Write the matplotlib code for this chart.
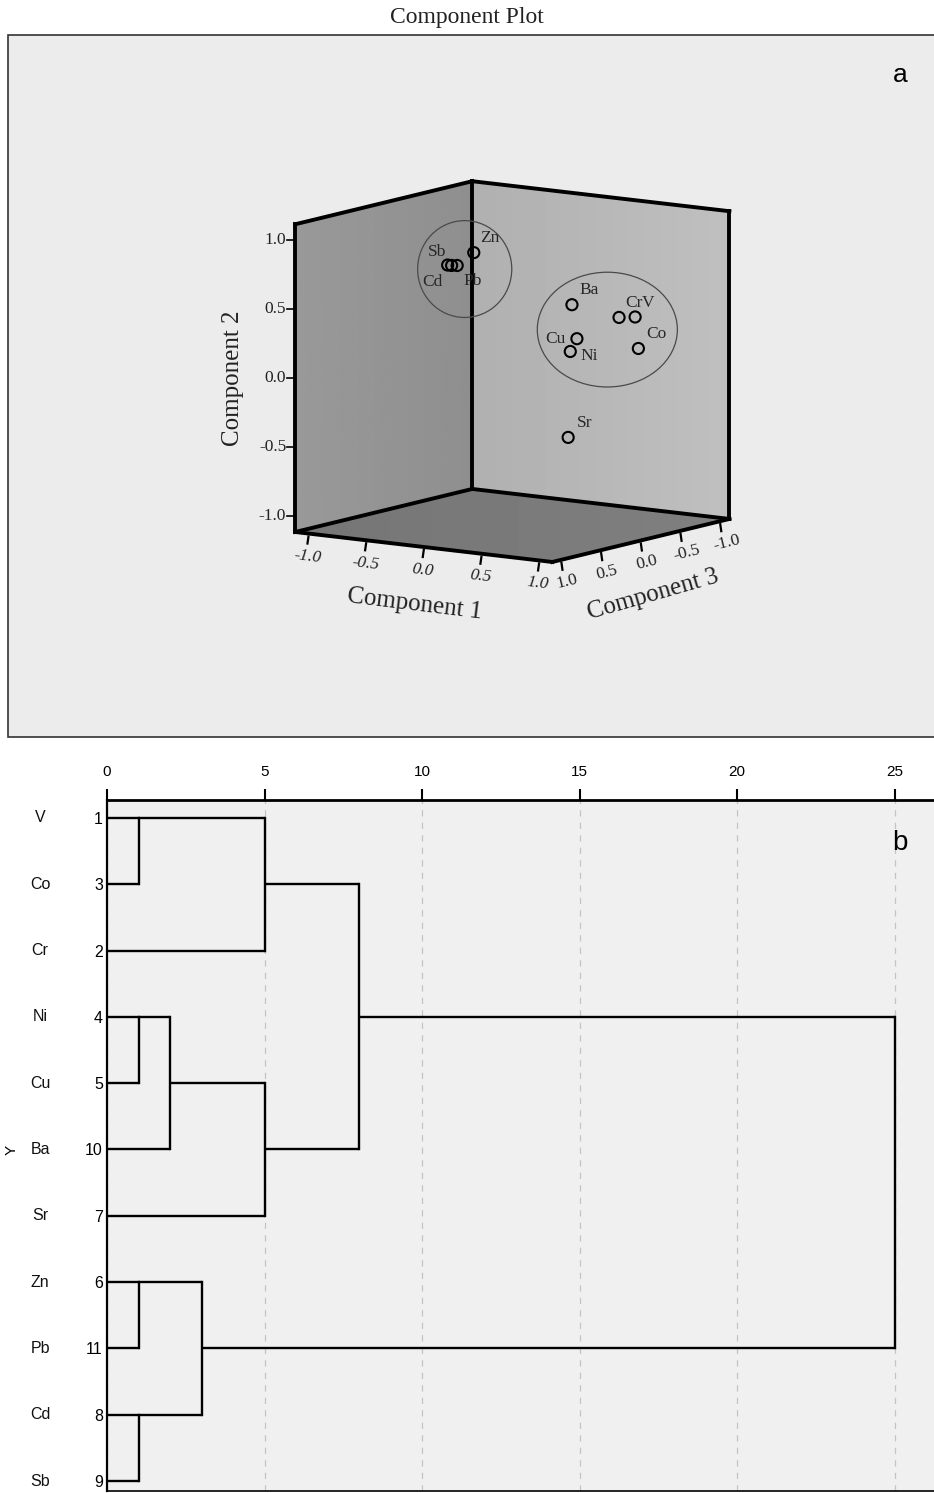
import numpy as np
import matplotlib
matplotlib.use("Agg")
import matplotlib.pyplot as plt
from matplotlib.patches import Polygon, Ellipse, Rectangle
from matplotlib import transforms

# panel a: loadings of each element on the three rotated components
elements = ["Zn", "Sb", "Cd", "Pb", "Ba", "Cr", "V", "Cu", "Ni", "Co", "Sr"]
comp1 = [-0.10, -0.12, -0.12, -0.12, 0.60, 0.85, 0.90, 0.65, 0.62, 0.88, 0.45]
comp2 = [0.90, 0.85, 0.84, 0.83, 0.56, 0.46, 0.45, 0.32, 0.23, 0.21, -0.44]
comp3 = [0.34, 0.64, 0.59, 0.52, 0.12, -0.11, -0.24, 0.13, 0.17, -0.31, -0.05]
axis_ticks = [-1.0, -0.5, 0.0, 0.5, 1.0]
clusters = [["Zn", "Sb", "Cd", "Pb"], ["Ba", "Cr", "V", "Cu", "Ni", "Co"]]

# panel b: dendrogram, rescaled distance cluster combine
leaf_names = ["V", "Co", "Cr", "Ni", "Cu", "Ba", "Sr", "Zn", "Pb", "Cd", "Sb"]
leaf_cases = [1, 3, 2, 4, 5, 10, 7, 6, 11, 8, 9]
merge_a = [0, 3, 7, 9, 12, 13, 11, 15, 17, 19]
merge_b = [1, 4, 8, 10, 5, 14, 2, 6, 18, 16]
merge_dist = [1, 1, 1, 1, 2, 3, 5, 5, 8, 25]
dist_ticks = [0, 5, 10, 15, 20, 25]

W, H = 934, 1493
SERIF = ["Liberation Serif", "DejaVu Serif"]
NARROW = ["Liberation Sans Narrow", "Liberation Sans", "DejaVu Sans"]
SANS = ["Liberation Sans", "DejaVu Sans"]

fig = plt.figure(figsize=(W / 100, H / 100), dpi=100)
fig.patch.set_facecolor("white")

# ---------- 3D component plot, drawn as an oblique projection ----------
TOP = 742
ax = fig.add_axes([0, 1 - TOP / H, 1, TOP / H])
ax.set_xlim(0, W)
ax.set_ylim(TOP, 0)
ax.axis("off")

BOX = 1.115
ORIGIN = np.array([512.3, 371.6])
E1 = np.array([115.3, 13.45])
E2 = np.array([0.0, -138.0])
E3 = np.array([-79.4, 19.3])


def project(c1, c2, c3):
    return ORIGIN + c1 * E1 + c2 * E2 + c3 * E3


ax.add_patch(Rectangle((8, 35), W, 702, facecolor="#ececec",
                       edgecolor="#333333", lw=1.2, zorder=0))

L = BOX
left_wall = [project(-L, -L, L), project(-L, L, L), project(-L, L, -L), project(-L, -L, -L)]
right_wall = [project(-L, -L, -L), project(-L, L, -L), project(L, L, -L), project(L, -L, -L)]
floor = [project(-L, -L, L), project(L, -L, L), project(L, -L, -L), project(-L, -L, -L)]


def shade(corners, c0, c1):
    poly = Polygon(corners, closed=True, facecolor="none", edgecolor="none")
    ax.add_patch(poly)
    xs = [p[0] for p in corners]
    ys = [p[1] for p in corners]
    grad = np.linspace(c0, c1, 64).reshape(1, -1)
    im = ax.imshow(grad, cmap="gray", vmin=0, vmax=1, aspect="auto",
                   extent=(min(xs), max(xs), max(ys), min(ys)), zorder=1)
    im.set_clip_path(poly)


shade(left_wall, 0.60, 0.56)
shade(right_wall, 0.69, 0.75)
shade(floor, 0.46, 0.50)
ax.set_xlim(0, W)
ax.set_ylim(TOP, 0)

edges = [
    ((-L, -L, L), (-L, L, L)), ((-L, L, L), (-L, L, -L)),
    ((-L, -L, -L), (-L, L, -L)), ((-L, L, -L), (L, L, -L)),
    ((L, -L, -L), (L, L, -L)), ((-L, -L, L), (L, -L, L)),
    ((L, -L, L), (L, -L, -L)), ((-L, -L, L), (-L, -L, -L)),
    ((-L, -L, -L), (L, -L, -L)),
]
for a, b in edges:
    p, q = project(*a), project(*b)
    ax.plot([p[0], q[0]], [p[1], q[1]], color="black", lw=2.8,
            solid_capstyle="projecting", zorder=3)

# axis ticks and labels
for t in axis_ticks:
    p = project(-L, t, L)
    ax.plot([p[0] - 8, p[0]], [p[1], p[1]], color="black", lw=1.2, zorder=3)
    ax.text(p[0] - 9, p[1], f"{t:.1f}", ha="right", va="center",
            family=SERIF, fontsize=12.5, color="#222222")
    p = project(t, -L, L)
    ax.plot([p[0], p[0] - 1], [p[1] + 3, p[1] + 10], color="black", lw=1.6, zorder=3)
    ax.text(p[0] - 1, p[1] + 23, f"{t:.1f}", ha="center", va="center",
            rotation=-6.7, family=SERIF, fontsize=12.5, style="italic", color="#222222")
    p = project(L, -L, t)
    ax.plot([p[0], p[0] + 1], [p[1] + 3, p[1] + 10], color="black", lw=1.6, zorder=3)
    ax.text(p[0] + 6, p[1] + 22, f"{t:.1f}", ha="center", va="center",
            rotation=13.7, family=SERIF, fontsize=12.5, color="#222222")

p = project(0, -L, L)
ax.text(p[0] - 9, p[1] + 57, "Component 1", ha="center", va="center",
        rotation=-7, family=SERIF, fontsize=18, color="#222222")
p = project(-L, 0, L)
ax.text(p[0] - 62, p[1], "Component 2", ha="center", va="center",
        rotation=90, family=SERIF, fontsize=18, color="#222222")
p = project(L, -L, 0)
ax.text(p[0] + 12, p[1] + 54, "Component 3", ha="center", va="center",
        rotation=16, family=SERIF, fontsize=18, color="#222222")

# loadings
pts = {}
for name, a1, a2, a3 in zip(elements, comp1, comp2, comp3):
    pts[name] = project(a1, a2, a3)
xy = np.array([pts[n] for n in elements])
ax.scatter(xy[:, 0], xy[:, 1], s=64, facecolors="none", edgecolors="black",
           linewidths=1.5, zorder=4)

label_offsets = {"Zn": (16, 15), "Sb": (-11, 13), "Cd": (-19, -17), "Pb": (15, -16),
                 "Ba": (17, 15), "Cr": (15, 14), "V": (13, 14), "Cu": (-22, 0),
                 "Ni": (19, -5), "Co": (18, 14), "Sr": (16, 14)}
for name in elements:
    ax.annotate(name, pts[name], xytext=label_offsets[name], textcoords="offset pixels",
                ha="center", va="center", family=SERIF, fontsize=12.5,
                color="#262626", zorder=5)

# rings around the two element groups
ring_pad = [(34, 42, 4, 10), (36, 34, 3, 1.5)]
for group, (px, py, ox, oy) in zip(clusters, ring_pad):
    g = np.array([pts[n] for n in group])
    cx = (g[:, 0].min() + g[:, 0].max()) / 2 + ox
    cy = (g[:, 1].min() + g[:, 1].max()) / 2 + oy
    w = g[:, 0].max() - g[:, 0].min() + 2 * px
    h = g[:, 1].max() - g[:, 1].min() + 2 * py
    ax.add_patch(Ellipse((cx, cy), w, h, facecolor="none", edgecolor="#4a4a4a",
                         lw=0.9, zorder=4))

fig.text(467 / W, 1 - 18 / H, "Component Plot", ha="center", va="center",
         family=SERIF, fontsize=17, color="#222222")
fig.text(900 / W, 1 - 75 / H, "a", ha="center", va="center",
         family=SANS, fontsize=19, color="black")

# ---------- dendrogram ----------
x0, x1, y0, y1 = 107, W, 800, 1491
dx = fig.add_axes([x0 / W, 1 - y1 / H, (x1 - x0) / W, (y1 - y0) / H])
dx.set_facecolor("#f0f0f0")
dx.set_xlim(0, (x1 - x0) / 31.5)
dx.set_ylim(len(leaf_names) - 1 + 0.15, -0.27)

node_x = [0.0] * len(leaf_names)
node_y = list(range(len(leaf_names)))
for a, b, d in zip(merge_a, merge_b, merge_dist):
    for c in (a, b):
        dx.plot([node_x[c], d], [node_y[c], node_y[c]], color="black", lw=1.7,
                solid_capstyle="butt", zorder=3)
    dx.plot([d, d], [node_y[a], node_y[b]], color="black", lw=1.7,
            solid_capstyle="projecting", zorder=3)
    node_x.append(d)
    node_y.append((node_y[a] + node_y[b]) // 2)

dx.xaxis.tick_top()
dx.set_xticks(dist_ticks)
dx.set_xticklabels([str(t) for t in dist_ticks], family=NARROW, fontsize=11)
dx.tick_params(axis="x", direction="out", length=8, width=1.5, pad=7, colors="black")
dx.grid(axis="x", linestyle=(0, (5, 5)), color="#c4c4c4", lw=0.9)
dx.set_axisbelow(True)

dx.set_yticks(range(len(leaf_names)))
dx.set_yticklabels([str(c) for c in leaf_cases], family=NARROW, fontsize=11.5)
dx.tick_params(axis="y", length=0, pad=3)
dx.spines["right"].set_visible(False)
dx.spines["top"].set_linewidth(2.0)
dx.spines["left"].set_linewidth(1.6)
dx.spines["bottom"].set_linewidth(1.2)

lab_tr = transforms.blended_transform_factory(fig.transFigure, dx.transData)
for i, name in enumerate(leaf_names):
    fig.text(40 / W, i, name, transform=lab_tr, ha="center", va="center",
             family=NARROW, fontsize=11.5, color="#111111")
dx.set_ylabel("Y", family=NARROW, fontsize=11, rotation=90, va="center")
dx.yaxis.set_label_coords(-95 / (x1 - x0), 0.494)

fig.text(900 / W, 1 - 843 / H, "b", ha="center", va="center",
         family=SANS, fontsize=20, color="black")

fig.savefig("out.png", dpi=100, facecolor="white")
